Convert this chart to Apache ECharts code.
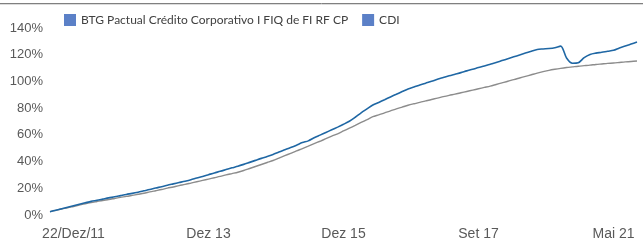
<!DOCTYPE html>
<html>
<head>
<meta charset="utf-8">
<script src="https://cdn.jsdelivr.net/npm/echarts@6/dist/echarts.min.js"></script>
<style>
html,body{margin:0;padding:0;background:#fff;}
#main{width:643px;height:242px;}
</style>
</head>
<body>
<div id="main"></div>
<script>
// rentabilidade acumulada (%)
var btg = [2.5,3.6,4.7,5.8,6.9,8.0,9.1,10.2,11.0,11.9,
    12.8,13.6,14.5,15.4,16.2,17.1,18.1,19.1,20.2,21.2,
    22.3,23.3,24.3,25.3,26.4,27.7,28.9,30.2,31.5,32.7,
    34.0,35.3,36.5,37.9,39.4,40.9,42.4,43.8,45.3,47.1,
    48.8,50.5,52.3,54.2,55.5,57.8,59.8,61.8,63.8,65.8,
    67.9,70.2,73.2,76.5,79.4,82.3,84.3,86.3,88.4,90.4,
    92.4,94.4,95.8,97.3,98.7,100.1,101.6,102.9,104.2,105.4,
    106.6,107.9,109.1,110.4,111.6,112.9,114.2,115.6,117.0,118.4,
    119.8,121.2,122.6,123.9,124.3,124.6,125.2,126.4,117.5,113.6,
    114.0,117.8,120.2,121.2,121.8,122.6,123.3,125.1,126.5,128.0,
    129.5];
var cdi = [2.5,3.5,4.5,5.4,6.4,7.4,8.4,9.3,10.1,10.9,
    11.6,12.4,13.2,13.9,14.7,15.5,16.3,17.3,18.2,19.1,
    20.1,21.0,22.0,22.9,23.9,24.9,25.9,26.9,27.9,28.9,
    30.0,31.0,32.0,33.3,34.8,36.3,37.8,39.3,40.8,42.6,
    44.4,46.2,48.0,49.7,51.5,53.4,55.2,57.1,59.0,60.8,
    62.9,65.0,67.1,69.3,71.4,73.6,75.0,76.5,77.9,79.4,
    80.8,82.2,83.3,84.3,85.4,86.5,87.5,88.6,89.6,90.5,
    91.5,92.5,93.5,94.5,95.5,96.5,97.7,98.9,100.1,101.4,
    102.6,103.8,105.0,106.2,107.3,108.3,109.1,109.8,110.4,110.9,
    111.4,111.8,112.2,112.7,113.1,113.5,113.8,114.2,114.6,114.9,
    115.3];
var tickLabels = ['22/Dez/11','Dez 13','Dez 15','Set 17','Mai 21'];
var tickIdx = [4,27,50,73,96];
var seriesNames = ['BTG Pactual Crédito Corporativo I FIQ de FI RF CP','CDI'];

var categories = btg.map(function (v, i) {
    var k = tickIdx.indexOf(i);
    return k >= 0 ? tickLabels[k] : '';
});

var chart = echarts.init(document.getElementById('main'));
var option = {
    animation: false,
    backgroundColor: '#fff',
    graphic: [
        {type: 'line', shape: {x1: 0, y1: 3.5, x2: 643, y2: 3.5}, style: {stroke: '#808080', lineWidth: 1}},
        {type: 'line', shape: {x1: 0, y1: 4.5, x2: 643, y2: 4.5}, style: {stroke: '#dcdcdc', lineWidth: 1}}
    ],
    legend: {
        left: 59,
        top: 9,
        icon: 'rect',
        itemWidth: 12,
        itemHeight: 12,
        itemGap: 14,
        textStyle: {color: '#404040', fontSize: 12, fontFamily: 'Lato'},
        data: [
            {name: seriesNames[0], itemStyle: {color: '#5b80c7'}},
            {name: seriesNames[1], itemStyle: {color: '#5b80c7'}}
        ]
    },
    grid: {left: 50, right: 6, top: 28, bottom: 27},
    xAxis: {
        type: 'category',
        boundaryGap: false,
        data: categories,
        axisLine: {show: false},
        axisTick: {show: false},
        axisLabel: {
            interval: function (i) { return tickIdx.indexOf(i) >= 0; },
            color: '#595959',
            fontSize: 14,
            fontFamily: 'Liberation Sans',
            margin: 12
        }
    },
    yAxis: {
        type: 'value',
        min: 0,
        max: 140,
        interval: 20,
        splitLine: {show: false},
        axisLine: {show: false},
        axisTick: {show: false},
        axisLabel: {
            formatter: '{value}%',
            color: '#595959',
            fontSize: 13,
            fontFamily: 'Liberation Sans',
            margin: 7
        }
    },
    series: [
        {
            name: seriesNames[0],
            type: 'line',
            data: btg,
            symbol: 'none',
            smooth: 0.3,
            z: 3,
            lineStyle: {color: '#1f67a4', width: 1.6}
        },
        {
            name: seriesNames[1],
            type: 'line',
            data: cdi,
            symbol: 'none',
            smooth: 0.3,
            z: 2,
            lineStyle: {color: '#8c8c8c', width: 1.4}
        }
    ]
};
chart.setOption(option);
</script>
</body>
</html>
